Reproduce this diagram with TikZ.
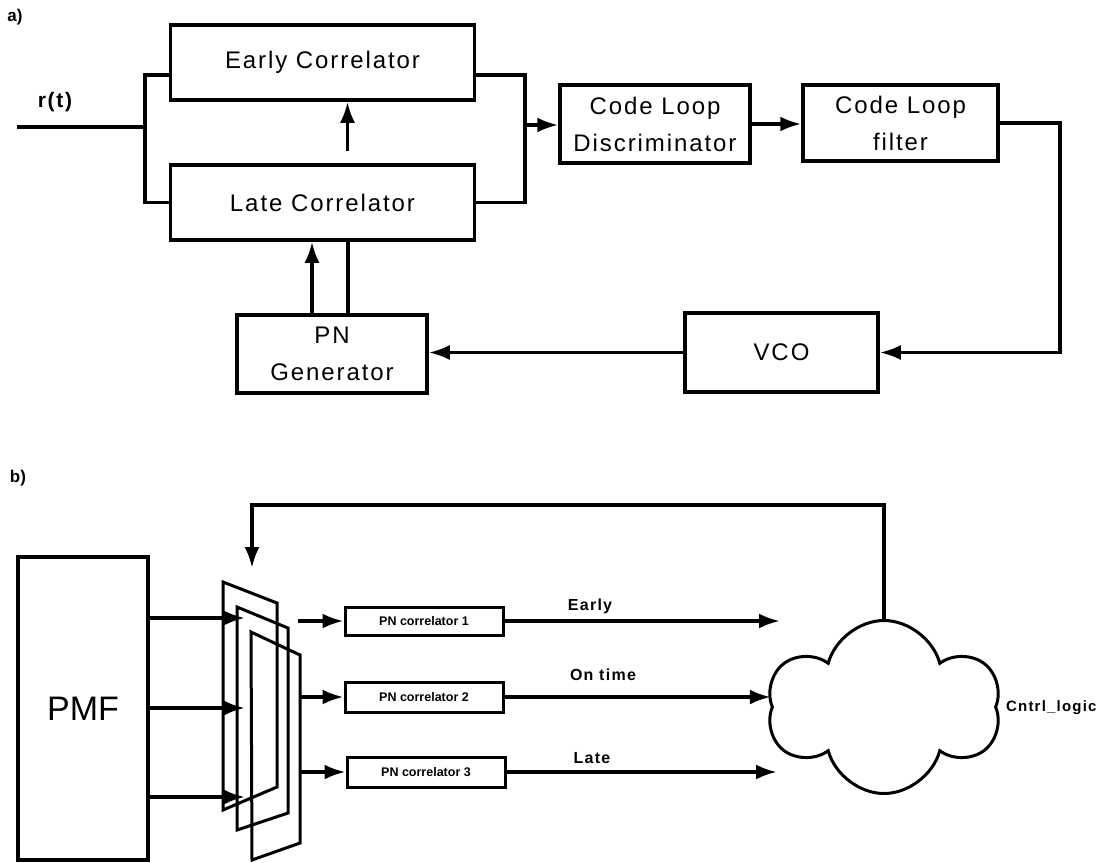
\documentclass[tikz,border=0pt]{standalone}
\usepackage{fontspec}
\setmainfont{Liberation Sans}
\newfontfamily\wideface[LetterSpace=8]{Liberation Sans}
\usetikzlibrary{arrows.meta,shapes.symbols}

\tikzset{
  blk/.style={draw, line width=3.5pt, inner sep=0pt, align=center,
    font=\wideface\fontsize{24}{37}\selectfont},
  pnbox/.style={draw, line width=3pt, inner sep=0pt, minimum width=158pt,
    minimum height=29pt, font=\bfseries\fontsize{12.5}{14}\selectfont},
  wire/.style={line width=3.5pt},
  panel/.style={line width=3pt, line join=miter},
  lbl/.style={font=\wideface\bfseries\fontsize{16}{18}\selectfont},
  >={Latex[length=21pt,width=15pt]}
}

\begin{document}
\begin{tikzpicture}[x=1pt,y=-1pt]
    \useasboundingbox (0,0) rectangle (1102,862);
    % a) code tracking loop
    \node[font=\bfseries\fontsize{17}{20}\selectfont] (tagA) at (15,17) {a)};
    \node[blk, minimum width=304pt, minimum height=75pt] (early) at (322.5,62.5) {Early Correlator};
    \node[blk, minimum width=304pt, minimum height=75pt] (late) at (322.5,202.5) {Late Correlator};
    \node[blk, minimum width=190pt, minimum height=78pt] (disc) at (655,124) {Code Loop\\Discriminator};
    \node[blk, minimum width=195pt, minimum height=76pt] (filt) at (900.5,123) {Code Loop\\filter};
    \node[blk, minimum width=193pt, minimum height=79pt] (vco) at (781.5,352.5) {VCO};
    \node[blk, minimum width=190pt, minimum height=78pt] (pngen) at (332,354) {PN\\Generator};
    \node[font=\wideface\bfseries\fontsize{21}{24}\selectfont] (rlab) at (55,102) {r(t)};
    \coordinate (rin) at (17,127);
    \coordinate (lsplit) at (145,127);
    \coordinate (rsplit) at (525,125);
    \coordinate (rturn) at (1060,352.5);
    \draw[wire] (rin) -- (lsplit);
    \draw[wire] ([yshift=-12.5pt]early.west) -| (lsplit) |- (late.west);
    \draw[wire] ([yshift=-12.5pt]early.east) -| (rsplit) |- (late.east);
    \draw[wire,->] (rsplit) -- (rsplit -| disc.west);
    \draw[wire,->] ([xshift=25pt,yshift=12pt]late.north) -- ([xshift=25pt]early.south);
    \draw[wire,->] (disc.east) -- (disc.east -| filt.west);
    \draw[wire,->] (filt.east) -| (rturn) -- (vco.east);
    \draw[wire,->] (vco.west) -- (vco.west -| pngen.east);
    \draw[wire,->] ([xshift=-20pt]pngen.north) -- ([xshift=-20pt]pngen.north |- late.south);
    \draw[wire] ([xshift=16pt]pngen.north) -- ([xshift=16pt]pngen.north |- late.south);

    % b) parallel correlators
    \node[font=\bfseries\fontsize{17}{20}\selectfont] (tagB) at (18,478) {b)};
    \node[draw, line width=3.5pt, minimum width=130pt, minimum height=303pt,
      font=\fontsize{34}{36}\selectfont] (pmf) at (83,708.5) {PMF};
    \draw[panel] (223,582) -- (277,603) -- (277,787) -- (223,810) -- cycle;
    \draw[panel] (237,607) -- (288,628) -- (288,813) -- (237,830) -- cycle;
    \draw[panel] (251,632) -- (300,655) -- (300,843) -- (252,860) -- cycle;
    \coordinate (in1) at (245,618);
    \coordinate (in2) at (245,708);
    \coordinate (in3) at (245,797);
    \draw[wire,->] (pmf.east |- in1) -- (in1);
    \draw[wire,->] (pmf.east |- in2) -- (in2);
    \draw[wire,->] (pmf.east |- in3) -- (in3);
    \node[pnbox, minimum height=28pt] (pn1) at (424,621) {PN correlator 1};
    \node[pnbox, minimum height=30pt] (pn2) at (424,697) {PN correlator 2};
    \node[pnbox, minimum height=30pt] (pn3) at (426,772) {PN correlator 3};
    \coordinate (out1) at (298,621);
    \coordinate (out2) at (300,697);
    \coordinate (out3) at (300,772);
    \draw[wire,->] (out1) -- (pn1.west);
    \draw[wire,->] (out2) -- (pn2.west);
    \draw[wire,->] (out3) -- (pn3.west);
    \node[cloud, cloud puffs=6, cloud ignores aspect, draw, line width=3pt,
      minimum width=232pt, minimum height=173pt] (logic) at (884,707) {};
    \node[lbl, font=\wideface\bfseries\fontsize{15}{18}\selectfont, anchor=east] (tlogic) at (1100,708) {Cntrl\_logic};
    \coordinate (end1) at (780,621);
    \coordinate (end3) at (777,772);
    \draw[wire,->] (pn1.east) -- (end1);
    \draw[wire,->] (pn2.east) -- (pn2.east -| logic.west);
    \draw[wire,->] (pn3.east) -- (end3);
    \node[lbl] (tearly) at (590,606) {Early};
    \node[lbl] (tontime) at (603,675) {On time};
    \node[lbl] (tlate) at (592,758) {Late};
    \coordinate (fbturn) at (252,505);
    \coordinate (fbtip) at (252,568);
    \draw[wire,->] (logic.north) |- (fbturn) -- (fbtip);
\end{tikzpicture}
\end{document}
